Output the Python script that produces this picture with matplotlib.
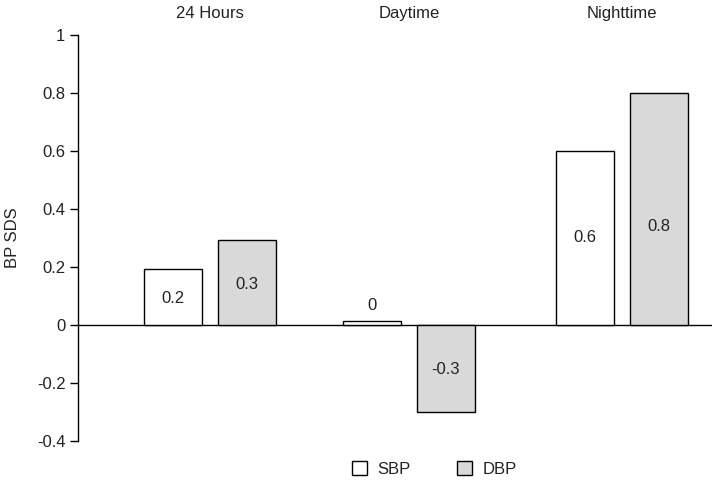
import matplotlib.pyplot as plt
from matplotlib.patches import Patch

plt.rcParams['font.family'] = ['Liberation Sans', 'DejaVu Sans']

groups = ['24 Hours', 'Daytime', 'Nighttime']
sbp = [0.194, 0.014, 0.60]
dbp = [0.294, -0.30, 0.80]
sbp_labels = ['0.2', '0', '0.6']
dbp_labels = ['0.3', '-0.3', '0.8']
sbp_label_y = [0.093, 0.066, 0.30]
dbp_label_y = [0.138, -0.152, 0.34]
yticks = [-0.4, -0.2, 0, 0.2, 0.4, 0.6, 0.8, 1]
ytick_labels = ['-0.4', '-0.2', '0', '0.2', '0.4', '0.6', '0.8', '1']

# layout
group_pos = [1.0, 2.0, 3.07]
width = 0.29
off = 0.186
txt = '#222222'
fs = 12

fig = plt.figure(figsize=(7.18, 4.86), dpi=100)
ax = fig.add_axes([0.1086, 0.0926, 0.883, 0.8354])

xs = [p - off for p in group_pos]
xd = [p + off for p in group_pos]
ax.bar(xs, sbp, width, color='white', edgecolor='black', linewidth=1, zorder=2)
ax.bar(xd, dbp, width, color='#d9d9d9', edgecolor='black', linewidth=1, zorder=2)

for x, y, s in zip(xs, sbp_label_y, sbp_labels):
    ax.text(x, y, s, ha='center', va='center', fontsize=fs, color=txt, zorder=3)
for x, y, s in zip(xd, dbp_label_y, dbp_labels):
    ax.text(x, y, s, ha='center', va='center', fontsize=fs, color=txt, zorder=3)

ax.axhline(0, color='black', linewidth=1, zorder=1)

ax.set_xlim(0.337, 3.523)
ax.set_ylim(-0.4, 1)
ax.set_yticks(yticks)
ax.set_yticklabels(ytick_labels, fontsize=fs, color=txt)
ax.set_xticks([])
ax.tick_params(axis='y', direction='out', length=6, width=1, pad=3)
for s in ['top', 'right', 'bottom']:
    ax.spines[s].set_visible(False)
ax.spines['left'].set_linewidth(1)
ax.set_ylabel('BP SDS', fontsize=fs, color=txt, labelpad=12)

for p, g in zip(group_pos, groups):
    ax.text(p, 1.054, g, ha='center', va='center', fontsize=fs, color=txt,
            transform=ax.get_xaxis_transform())

handles = [Patch(facecolor='white', edgecolor='black', linewidth=1, label='SBP'),
           Patch(facecolor='#d9d9d9', edgecolor='black', linewidth=1, label='DBP')]
leg = fig.legend(handles=handles, ncol=2, loc='center', bbox_to_anchor=(0.605, 0.035),
                 frameon=False, fontsize=fs, handlelength=0.9, handleheight=0.9,
                 columnspacing=2.8, handletextpad=0.6)
for t in leg.get_texts():
    t.set_color(txt)

fig.savefig('out.png', dpi=100)
